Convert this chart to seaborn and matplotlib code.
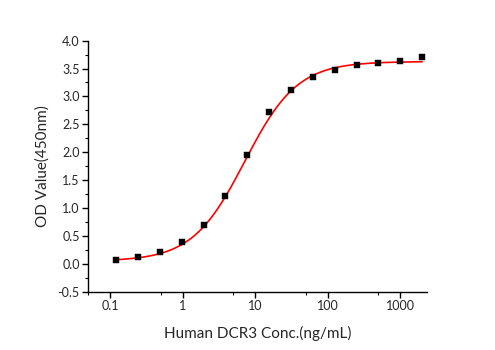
import numpy as np
import pandas as pd
import matplotlib
matplotlib.use("Agg")
import matplotlib.pyplot as plt
import matplotlib.ticker as mticker
import seaborn as sns

# Measured points
conc = [0.122, 0.244, 0.488, 0.977, 1.95, 3.9, 7.8, 15.6, 31.25, 62.5, 125, 250, 500, 1000, 2000]
od = [0.073, 0.127, 0.217, 0.385, 0.70, 1.21, 1.944, 2.715, 3.12, 3.342, 3.468, 3.568, 3.593, 3.629, 3.706]

# 4-parameter logistic fit parameters
fit_bottom = 0.05
fit_top = 3.625
fit_ec50 = 7.2
fit_hill = 1.2

xticks = [0.1, 1, 10, 100, 1000]
xtick_labels = ["0.1", "1", "10", "100", "1000"]
yticks = [-0.5, 0.0, 0.5, 1.0, 1.5, 2.0, 2.5, 3.0, 3.5, 4.0]

sns.set_style("ticks")
plt.rcParams['font.family'] = ['Lato', 'DejaVu Sans']

fig = plt.figure(figsize=(4.95, 3.5), dpi=100)
ax = fig.add_axes([0.178, 0.166, 0.685, 0.718])

xs = np.logspace(np.log10(conc[0]), np.log10(conc[-1]), 300)
fit_df = pd.DataFrame({"x": xs,
                       "y": fit_top + (fit_bottom - fit_top) / (1 + (xs / fit_ec50) ** fit_hill)})
pts_df = pd.DataFrame({"x": conc, "y": od})

sns.lineplot(data=fit_df, x="x", y="y", ax=ax, color="#ff0000", linewidth=1.2)
sns.scatterplot(data=pts_df, x="x", y="y", ax=ax, marker="s", color="black",
                s=20, edgecolor="black", linewidth=0.3, zorder=5)

ax.set_xscale("log")
ax.set_xlim(0.05, 2350)
ax.set_ylim(-0.5, 4.0)
ax.set_xticks(xticks)
ax.set_xticklabels(xtick_labels)
ax.xaxis.set_minor_locator(mticker.FixedLocator([0.05, 0.5, 5, 50, 500]))
ax.xaxis.set_minor_formatter(mticker.NullFormatter())
ax.set_yticks(yticks)
ax.set_yticklabels([f"{v:.1f}" for v in yticks])
ax.yaxis.set_minor_locator(mticker.MultipleLocator(0.25))

for s in ["top", "right"]:
    ax.spines[s].set_visible(False)
for s in ["left", "bottom"]:
    ax.spines[s].set_color("black")
    ax.spines[s].set_linewidth(1.0)

ax.tick_params(axis="both", which="major", direction="out", length=4, width=1,
               labelsize=9, color="black", pad=2)
ax.tick_params(axis="both", which="minor", direction="out", length=2.5, width=0.8, color="black")

ax.set_xlabel("Human DCR3 Conc.(ng/mL)", fontsize=11, labelpad=10)
ax.set_ylabel("OD Value(450nm)", fontsize=11, labelpad=6)

fig.savefig("out.png", dpi=100)
